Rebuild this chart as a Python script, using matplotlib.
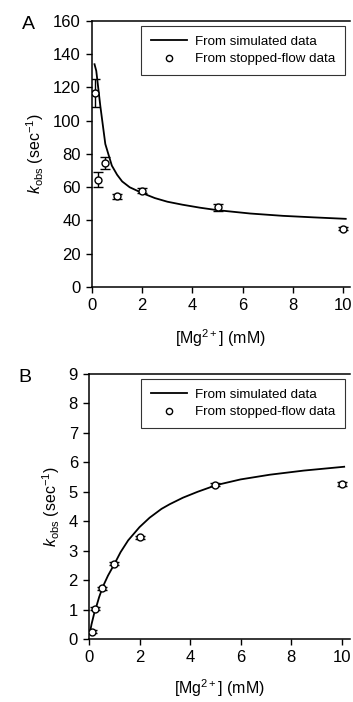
import numpy as np
import matplotlib
matplotlib.use("Agg")
import matplotlib.pyplot as plt
from matplotlib.lines import Line2D

plt.rcParams['font.family'] = ['Liberation Sans', 'DejaVu Sans']
plt.rcParams['mathtext.fontset'] = 'custom'
plt.rcParams['mathtext.rm'] = 'Liberation Sans'
plt.rcParams['mathtext.it'] = 'Liberation Sans:italic'

# panel A - simulated curve
simA_x = [0.1, 0.17, 0.33, 0.53, 0.79, 1.0, 1.2, 1.5, 2.0, 2.5, 3.0, 3.6, 4.3, 5.0, 6.3, 7.6, 8.8, 10.1]
simA_y = [134, 130, 109, 86, 73, 67.5, 63.5, 60, 56.5, 53.5, 51.3, 49.5, 47.7, 46.2, 44.2, 42.8, 41.9, 41]
# panel A - stopped-flow
expA_x = [0.1, 0.25, 0.5, 1, 2, 5, 10]
expA_y = [116.5, 64.5, 74.5, 54.5, 58, 48, 35]
expA_err = [8.5, 4.5, 3.7, 1.3, 1.3, 2, 0.8]

# panel B - simulated curve
simB_x = [0.03, 0.1, 0.2, 0.29, 0.4, 0.55, 0.75, 1.02, 1.25, 1.55, 2.0, 2.4, 2.87, 3.2, 3.72,
          4.3, 5.05, 6.0, 7.16, 8.5, 10.1]
simB_y = [0.19, 0.5, 0.85, 1.10, 1.42, 1.78, 2.15, 2.57, 2.95, 3.35, 3.8, 4.12, 4.42, 4.58, 4.8,
          5.0, 5.23, 5.42, 5.58, 5.72, 5.85]
# panel B - stopped-flow
expB_x = [0.1, 0.25, 0.5, 1, 2, 5, 10]
expB_y = [0.25, 1.03, 1.73, 2.55, 3.46, 5.24, 5.27]
expB_err = [0.05, 0.05, 0.05, 0.05, 0.05, 0.06, 0.06]

W, H = 353, 702
fig = plt.figure(figsize=(W / 100, H / 100), dpi=100)

def px_axes(l, t, r, b):
    return fig.add_axes([l / W, 1 - b / H, (r - l) / W, (b - t) / H])

axA = px_axes(92, 21, 350, 287)
axB = px_axes(89, 374, 350, 639)

panels = [
    (axA, simA_x, simA_y, expA_x, expA_y, expA_err, (0, 160), np.arange(0, 161, 20), 10.27, 'A', 10),
    (axB, simB_x, simB_y, expB_x, expB_y, expB_err, (0, 9), np.arange(0, 10, 1), 10.33, 'B', 9),
]

handles = [
    Line2D([], [], color='black', lw=1.3),
    Line2D([], [], ls='none', marker='o', ms=4.5, mfc='white', mec='black', mew=1.0),
]
labels = ['From simulated data', 'From stopped-flow data']

for ax, sx, sy, ex, ey, ee, ylim, yt, xmax, letter, xpad in panels:
    ax.plot(sx, sy, color='black', lw=1.3)
    ax.errorbar(ex, ey, yerr=ee, fmt='o', ms=5, mfc='white', mec='black', mew=1.0,
                ecolor='black', elinewidth=1.0, capsize=3.5, capthick=1.0, zorder=3)
    ax.set_xlim(0, xmax)
    ax.set_ylim(*ylim)
    ax.set_yticks(yt)
    ax.set_xticks(np.arange(0, 11, 2))
    ax.spines['right'].set_visible(False)
    for s in ['left', 'bottom', 'top']:
        ax.spines[s].set_linewidth(1.1)
    ax.tick_params(direction='out', length=4, width=1, labelsize=12, pad=4)
    ax.set_xlabel('[Mg$^{2+}$] (mM)', fontsize=11.5, labelpad=xpad)
    ax.set_ylabel('$k_{\\mathrm{obs}}$ (sec$^{-1}$)', fontsize=11.5, labelpad=5)
    leg = ax.legend(handles, labels, loc='upper right', fontsize=9.6, frameon=True,
                    fancybox=False, edgecolor='black', handlelength=2.7,
                    borderaxespad=0.35, handletextpad=0.6, labelspacing=0.38,
                    borderpad=0.75)
    leg.get_frame().set_linewidth(0.8)
    ax.text(-0.27, 0.985, letter, transform=ax.transAxes, fontsize=14,
            ha='left', va='center')

fig.savefig('out.png', dpi=100)
